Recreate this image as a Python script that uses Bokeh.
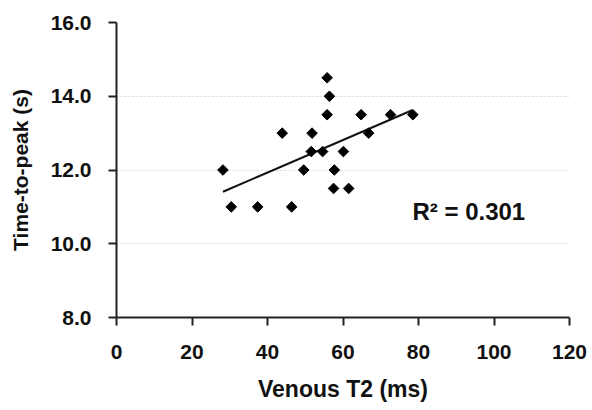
import math
from bokeh.plotting import figure
from bokeh.models import Range1d, FixedTicker, Label, CustomJSTickFormatter
from bokeh.embed import file_html
from bokeh.resources import INLINE

# data
venous_t2 = [55.8, 56.4, 55.8, 64.8, 72.6, 78.5, 43.9, 51.8, 66.8, 51.6,
             54.6, 60.1, 28.2, 49.6, 57.7, 57.5, 61.5, 30.4, 37.4, 46.4]
time_to_peak = [14.5, 14.0, 13.5, 13.5, 13.5, 13.5, 13.0, 13.0, 13.0, 12.5,
                12.5, 12.5, 12.0, 12.0, 12.0, 11.5, 11.5, 11.0, 11.0, 11.0]
trend_x = [28.2, 78.3]
trend_y = [11.41, 13.62]
x_ticks = [0, 20, 40, 60, 80, 100, 120]
y_ticks = [8, 10, 12, 14, 16]
x_title = "Venous T2 (ms)"
y_title = "Time-to-peak (s)"
r2_text = "R\u00b2 = 0.301"

FONT = "Liberation Sans"

p = figure(width=590, height=409, output_backend="svg", toolbar_location=None,
           x_range=Range1d(0, 120), y_range=Range1d(8, 16),
           min_border_left=116, min_border_right=21,
           min_border_top=22, min_border_bottom=92)
p.outline_line_color = None
p.background_fill_color = "white"
p.border_fill_color = "white"

p.xgrid.visible = False
p.ygrid.ticker = FixedTicker(ticks=y_ticks)
p.ygrid.grid_line_color = "#d8d8d8"
p.ygrid.grid_line_dash = "2 2"
p.ygrid.grid_line_width = 1

p.xaxis.ticker = FixedTicker(ticks=x_ticks)
p.yaxis.ticker = FixedTicker(ticks=y_ticks)
p.yaxis.formatter = CustomJSTickFormatter(code="return tick.toFixed(1);")

for ax in (p.xaxis, p.yaxis):
    ax.axis_line_color = "#222222"
    ax.axis_line_width = 2
    ax.major_tick_line_color = "#222222"
    ax.major_tick_line_width = 2
    ax.major_tick_out = 8
    ax.major_tick_in = 0
    ax.minor_tick_line_color = None
    ax.major_label_text_font = FONT
    ax.major_label_text_font_style = "bold"
    ax.major_label_text_font_size = "21px"
    ax.major_label_text_color = "#111111"
    ax.axis_label_text_font = FONT
    ax.axis_label_text_font_style = "bold"
    ax.axis_label_text_color = "#111111"

p.xaxis.axis_label_text_font_size = "23px"
p.yaxis.axis_label_text_font_size = "21px"
p.xaxis.major_label_standoff = 19
p.yaxis.major_label_standoff = 17
p.xaxis.axis_label = x_title
p.yaxis.axis_label = y_title
p.xaxis.axis_label_standoff = 14
p.yaxis.axis_label_standoff = 16

p.line(trend_x, trend_y, line_color="#111111", line_width=2)
p.scatter(venous_t2, time_to_peak, marker="square", angle=math.pi / 4,
          size=7.5, fill_color="#000000", line_color="#000000")

p.add_layout(Label(x=78.4, y=10.52, text=r2_text, text_font=FONT,
                   text_font_style="bold", text_font_size="24px",
                   text_color="#111111"))

open("out.html", "w").write(file_html(p, INLINE))
